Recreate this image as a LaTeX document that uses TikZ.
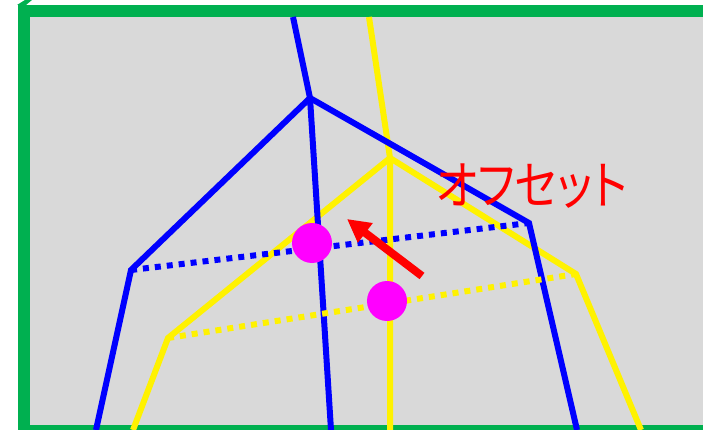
\documentclass[tikz,border=0pt]{standalone}
\usepackage{fontspec}
\newfontfamily\jpfont[RawFeature=+palt]{Noto Sans CJK JP}
\usetikzlibrary{arrows.meta}
\definecolor{framegreen}{HTML}{00B050}
\definecolor{panelgray}{HTML}{D9D9D9}
\definecolor{dotmagenta}{HTML}{FF00FF}
\begin{document}
\begin{tikzpicture}[x=1pt, y=-1pt,
   blueline/.style={draw=blue, line width=6pt},
   yellowline/.style={draw=yellow, line width=6pt},
   dotline/.style={dash pattern=on 6pt off 6pt},
   center/.style={fill=dotmagenta, draw=none},
   offset/.style={draw=red, line width=8pt, -{Triangle[length=23pt,width=23pt]}}]
\useasboundingbox (0,0) rectangle (703,430);
\fill[framegreen] (17,5) -- (25,0) -- (32,0) -- (26,5) -- cycle;
\draw[framegreen, fill=panelgray, line width=12pt] (24,11) rectangle (720,431);
% yellow
\coordinate (ytop) at (369,17);
\coordinate (yapex) at (390,158);
\coordinate (ybot) at (390,430);
\coordinate (yleft) at (168,338);
\coordinate (yleftbot) at (133,430);
\coordinate (yright) at (576,274);
\coordinate (yrightbot) at (641,430);
\draw[yellowline] (ytop) -- (yapex) -- (ybot);
\draw[yellowline] (yleftbot) -- (yleft) -- (yapex) -- (yright) -- (yrightbot);
% blue
\coordinate (btop) at (293,17);
\coordinate (bapex) at (310,98);
\coordinate (bbot) at (331,430);
\coordinate (bleft) at (131,270);
\coordinate (bleftbot) at (96,430);
\coordinate (bright) at (529,223);
\coordinate (brightbot) at (577,430);
\draw[blueline] (btop) -- (bapex) -- (bbot);
\draw[blueline] (bleftbot) -- (bleft) -- (bapex) -- (bright) -- (brightbot);
\draw[blueline, dotline] (bleft) -- (bright);
\draw[yellowline, dotline] (yleft) -- (yright);
% centres
\fill[center] (312,243) circle (20);
\fill[center] (387,301) circle (20);
\coordinate (tail) at (422,276);
\coordinate (tip) at (347,219);
\draw[offset] (tail) -- (tip);
\node[text=red, inner sep=0pt, xscale=0.86, font=\jpfont\fontsize{52}{52}\selectfont] (label) at (532,186) {オフセット};
\end{tikzpicture}
\end{document}
